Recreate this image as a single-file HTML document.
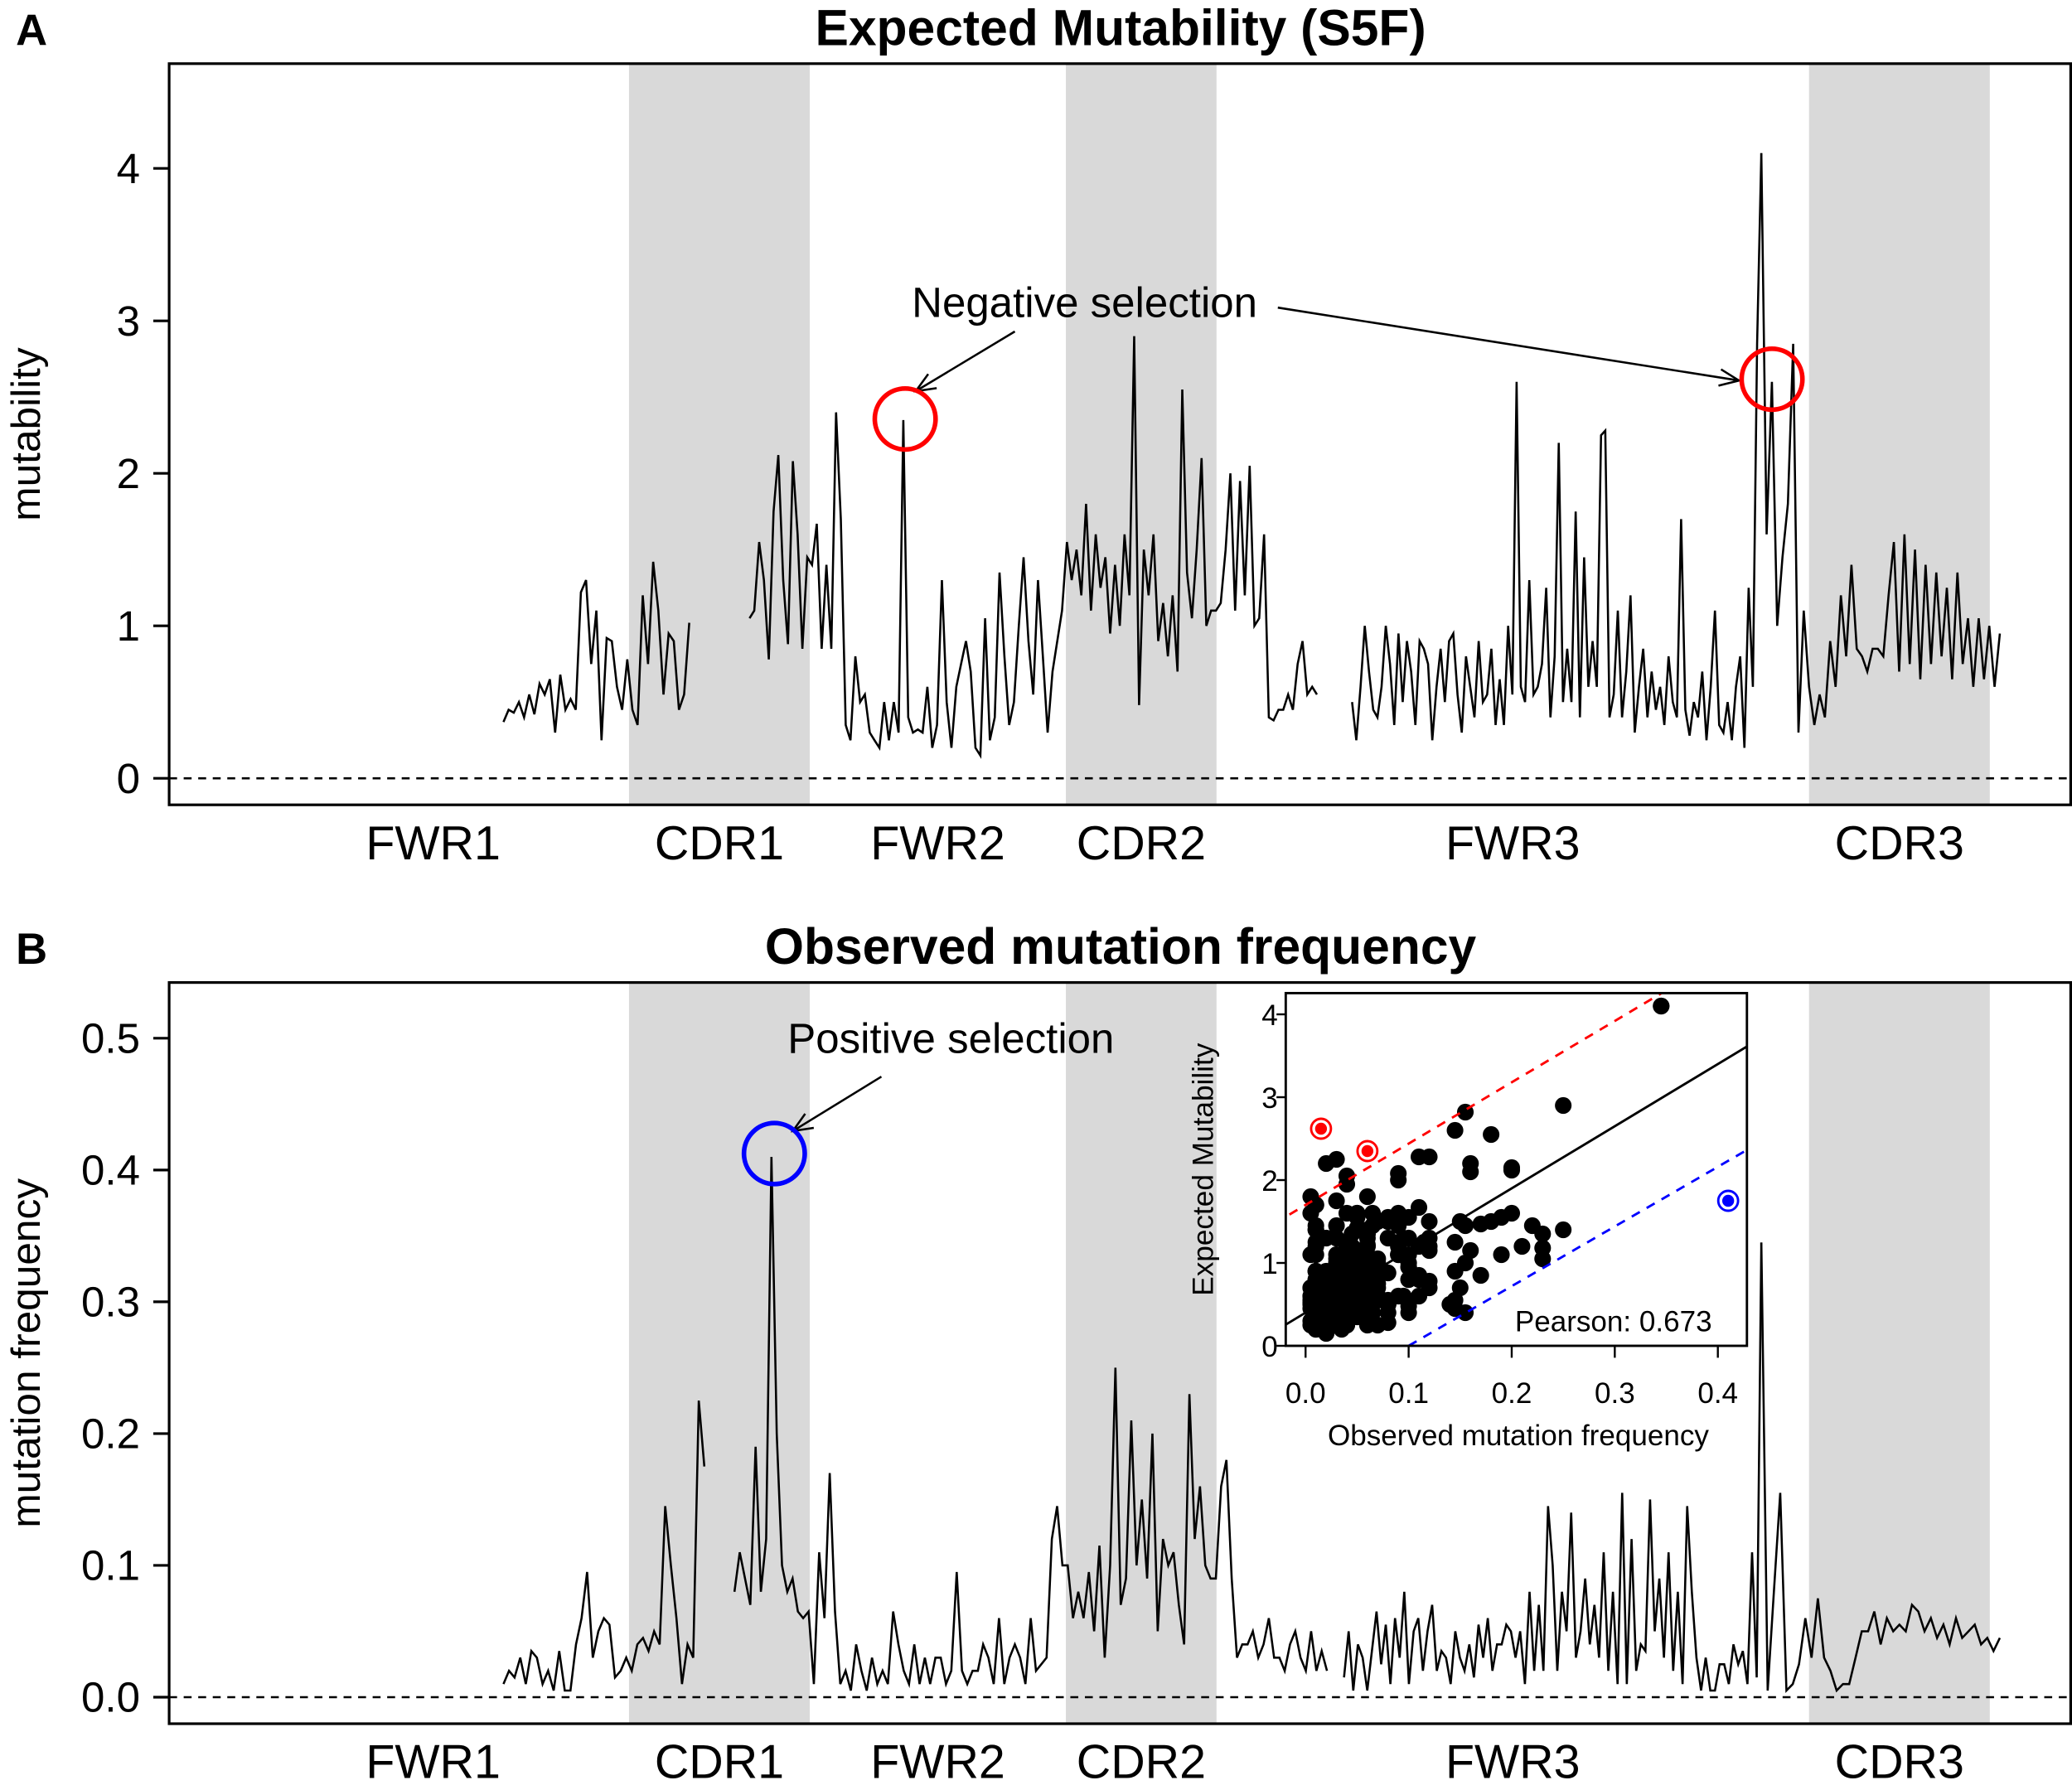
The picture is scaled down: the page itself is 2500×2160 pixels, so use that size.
<!DOCTYPE html>
<html><head><meta charset="utf-8"><style>
html,body{margin:0;padding:0;background:#fff;}
svg{display:block;font-family:"Liberation Sans",Arial,sans-serif;}
</style></head><body>
<svg id="fig" xmlns="http://www.w3.org/2000/svg" width="2500" height="2160" viewBox="0 0 1568 1350" preserveAspectRatio="none"></svg>
<script>
// ---- data ----
const regionNames = ["FWR1","CDR1","FWR2","CDR2","FWR3","CDR3"];
const regionStart = [1,79,115,166,196,314];
const regionEnd = [78,114,165,195,313,349];
const segStartA = [54,103,223,304.5];
const segEndA = [91,216,304.5,352];
const mutA1 = [0.37,0.45,0.43,0.5,0.4,0.55,0.42,0.62,0.55,0.65,0.3,0.68,0.45,0.52,0.45,1.22,1.3,0.75,1.1,0.25,0.92,0.9,0.6,0.45,0.78,0.45,0.35,1.2,0.75,1.42,1.1,0.55,0.95,0.9,0.45,0.55,1.02];
const mutA2 = [1.05,1.1,1.55,1.3,0.78,1.75,2.12,1.3,0.88,2.08,1.6,0.85,1.45,1.4,1.67,0.85,1.4,0.85,2.4,1.7,0.35,0.25,0.8,0.5,0.55,0.3,0.25,0.2,0.5,0.25,0.5,0.3,2.35,0.4,0.3,0.32,0.3,0.6,0.2,0.35,1.3,0.5,0.2,0.6,0.75,0.9,0.7,0.2,0.15,1.05,0.25,0.4,1.35,0.8,0.35,0.5,1.0,1.45,0.9,0.55,1.3,0.8,0.3,0.7,0.9,1.1,1.55,1.3,1.5,1.2,1.8,1.1,1.6,1.25,1.45,0.95,1.4,1.0,1.6,1.2,2.9,0.48,1.5,1.2,1.6,0.9,1.15,0.8,1.2,0.7,2.55,1.35,1.05,1.5,2.1,1.0,1.1,1.1,1.15,1.5,2.0,1.1,1.95,1.2,2.05,1.0,1.05,1.6,0.4,0.38,0.45,0.45,0.55,0.45,0.75,0.9,0.55,0.6,0.55];
const mutA3a = [0.5,0.25,0.6,1.0,0.7,0.45,0.4,0.6,1.0,0.75,0.35,0.95,0.5,0.9,0.7,0.35,0.9,0.85,0.75,0.25,0.6,0.85,0.5,0.9,0.95,0.55,0.3,0.8,0.6,0.4,0.9,0.5,0.55,0.85,0.35,0.65,0.35,1.0,0.55,2.6,0.6,0.5,1.3,0.55,0.6,0.75,1.25,0.4,0.8,2.2,0.5,0.85,0.5,1.75,0.4,1.45,0.6,0.9,0.6,2.25,2.28,0.4,0.55,1.1,0.4,0.7,1.2,0.3,0.6,0.85,0.4,0.7,0.45,0.6,0.35,0.8,0.5,0.4,1.7,0.45,0.28,0.5,0.4,0.7,0.25,0.6,1.1,0.35,0.3,0.5,0.25,0.6,0.8,0.2,1.25,0.6,2.85,4.1];
const mutA3b = [4.1,1.6,2.6,1.0,1.45,1.8,2.85,0.3,1.1,0.6,0.35,0.55,0.4,0.9,0.6,1.2,0.8,1.4,0.85,0.8,0.7,0.85,0.85,0.8,1.2,1.55,0.7,1.6,0.75,1.5,0.65,1.4,0.75,1.35,0.8,1.25,0.65,1.35,0.75,1.05,0.6,1.05,0.65,1.0,0.6,0.95];
const segStartB = [54,100,221.4,304.5];
const segEndB = [94,218,304.5,352];
const freqB1 = [0.01,0.02,0.015,0.03,0.01,0.035,0.03,0.01,0.02,0.005,0.035,0.005,0.005,0.04,0.06,0.095,0.03,0.05,0.06,0.055,0.015,0.02,0.03,0.02,0.04,0.045,0.035,0.05,0.04,0.145,0.1,0.06,0.01,0.04,0.03,0.225,0.175];
const freqB2 = [0.08,0.11,0.09,0.07,0.19,0.08,0.12,0.41,0.2,0.1,0.08,0.09,0.065,0.06,0.065,0.01,0.11,0.06,0.17,0.065,0.01,0.02,0.005,0.04,0.02,0.005,0.03,0.01,0.02,0.01,0.065,0.04,0.02,0.01,0.04,0.01,0.03,0.01,0.03,0.03,0.01,0.02,0.095,0.02,0.01,0.02,0.02,0.04,0.03,0.01,0.06,0.01,0.03,0.04,0.03,0.01,0.06,0.02,0.025,0.03,0.12,0.145,0.1,0.1,0.06,0.08,0.06,0.095,0.05,0.115,0.03,0.1,0.25,0.07,0.09,0.21,0.1,0.15,0.09,0.2,0.05,0.12,0.1,0.11,0.07,0.04,0.23,0.12,0.16,0.1,0.09,0.09,0.16,0.18,0.09,0.03,0.04,0.04,0.05,0.03,0.04,0.06,0.03,0.03,0.02,0.04,0.05,0.03,0.02,0.05,0.02,0.035,0.02];
const freqB3a = [0.015,0.05,0.005,0.04,0.03,0.005,0.035,0.065,0.025,0.055,0.01,0.06,0.03,0.08,0.01,0.05,0.06,0.02,0.05,0.07,0.02,0.035,0.03,0.01,0.05,0.03,0.02,0.04,0.015,0.055,0.03,0.06,0.02,0.04,0.04,0.055,0.05,0.03,0.05,0.01,0.08,0.02,0.07,0.02,0.145,0.1,0.02,0.08,0.05,0.14,0.03,0.05,0.09,0.04,0.07,0.03,0.11,0.02,0.08,0.01,0.155,0.01,0.12,0.02,0.04,0.035,0.15,0.05,0.09,0.03,0.11,0.02,0.08,0.01,0.145,0.08,0.03,0.005,0.03,0.005,0.005,0.025,0.025,0.01,0.04,0.025,0.035,0.01,0.11,0.015,0.345];
const freqB3b = [0.345,0.005,0.08,0.155,0.005,0.01,0.025,0.06,0.03,0.075,0.03,0.02,0.005,0.01,0.01,0.03,0.05,0.05,0.065,0.04,0.06,0.05,0.055,0.05,0.07,0.065,0.05,0.06,0.045,0.055,0.04,0.06,0.045,0.05,0.055,0.04,0.045,0.035,0.045];
const ticksA = [0,1,2,3,4];
const ticksB = [0,0.1,0.2,0.3,0.4,0.5];
const tickLabelsB = ["0.0","0.1","0.2","0.3","0.4","0.5"];
const insetXTicks = [0,0.1,0.2,0.3,0.4];
const insetXLabels = ["0.0","0.1","0.2","0.3","0.4"];
const insetYTicks = [0,1,2,3,4];
const negSelX = [0.015,0.06];
const negSelY = [2.62,2.35];
const posSelX = [0.41];
const posSelY = [1.75];
const extraX = [0.25,0.22,0.23,0.19,0.2,0.18,0.16,0.155,0.145,0.12,0.17];
const extraY = [2.9,1.45,1.18,1.55,2.15,2.55,2.2,2.82,2.6,2.28,1.47];
const fitLine = [0.4,7.5];
const upperLine = [1.7,7.4];
const lowerLine = [-0.72,7.2];

// ---- helpers ----
const svg = document.getElementById('fig');
const NS = "http://www.w3.org/2000/svg";
function mk(tag, attrs, parent){const e=document.createElementNS(NS,tag);for(const k in attrs)e.setAttribute(k,attrs[k]);(parent||svg).appendChild(e);return e;}
function posX(p){return 476 + (p-79)*3.8;}
function yA(v){return 587 - v*115;}
function yB(v){return 1280 - v*994;}
function ix(v){return 988 + v*780;}
function iy(v){return 1015 - v*62.5;}
function segPoints(segS,segE,segs){
  const out=[];
  segs.forEach((vals,s)=>{const step=(segE[s]-segS[s])/(vals.length-1);vals.forEach((v,i)=>out.push([segS[s]+i*step,v]));});
  return out;
}

function panel(top, bottom, yScale, ticks, labels, title, letter, ytitle, segS, segE, segs, key){
  const g = mk('g',{});
  
  
  regionNames.forEach((n,i)=>{
    if(i%2===1){
      const r = mk('rect',{x:posX(regionStart[i]),y:top,width:posX(regionEnd[i]+1)-posX(regionStart[i]),height:bottom-top,fill:'#d9d9d9'},g);
      
      
    }
    const t = mk('text',{x:(posX(regionStart[i])+posX(regionEnd[i]+1))/2,y:bottom+41,'font-size':36,'text-anchor':'middle'},g);
    t.textContent = n;
    
    
  });
  const z = mk('line',{x1:128,x2:1567,y1:yScale(0),y2:yScale(0),stroke:'#000','stroke-width':1.6,'stroke-dasharray':'6,5'},g);
  
  
  segs.forEach((vals,s)=>{
    const step=(segE[s]-segS[s])/(vals.length-1);
    const pts = vals.map((v,i)=>posX(segS[s]+i*step).toFixed(1)+','+yScale(v).toFixed(1)).join(' ');
    const pl = mk('polyline',{points:pts,fill:'none',stroke:'#000','stroke-width':1.6,'stroke-linejoin':'miter'},g);
    
    
  });
  const box = mk('rect',{x:128,y:top,width:1439,height:bottom-top,fill:'none',stroke:'#000','stroke-width':2},g);
  
  
  ticks.forEach((v,i)=>{
    mk('line',{x1:116,x2:128,y1:yScale(v),y2:yScale(v),stroke:'#000','stroke-width':2},g);
    const t = mk('text',{x:106,y:yScale(v)+11,'font-size':32,'text-anchor':'end'},g);
    t.textContent = labels[i];
    
    
  });
  const tt = mk('text',{x:848,y:top-14,'font-size':38,'font-weight':'bold','text-anchor':'middle'},g);
  tt.textContent = title;
  
  
  const lt = mk('text',{x:12,y:top-14,'font-size':33,'font-weight':'bold'},g);
  lt.textContent = letter;
  
  
  const cy=(top+bottom)/2;
  const yt = mk('text',{x:30,y:cy,'font-size':31,'text-anchor':'middle',transform:'rotate(-90 30 '+cy+')'},g);
  yt.textContent = ytitle;
  
  
}
panel(48,607,yA,ticksA,ticksA.map(String),'Expected Mutability (S5F)','A','mutability',segStartA,segEndA,[mutA1,mutA2,mutA3a,mutA3b],'a');
panel(741,1300,yB,ticksB,tickLabelsB,'Observed mutation frequency','B','mutation frequency',segStartB,segEndB,[freqB1,freqB2,freqB3a,freqB3b],'b');

// annotations
function ann(txt,x,y,name){const t=mk('text',{x:x,y:y,'font-size':32});t.textContent=txt;}
ann('Negative selection',690,239,'negative-selection-label');
ann('Positive selection',596,794,'positive-selection-label');
function arrow(x1,y1,x2,y2,name){
  const l=mk('line',{x1:x1,y1:y1,x2:x2,y2:y2,stroke:'#000','stroke-width':1.6});
  
  
  const a=Math.atan2(y1-y2,x1-x2),L=16;
  mk('polyline',{points:(x2+L*Math.cos(a+0.4))+','+(y2+L*Math.sin(a+0.4))+' '+x2+','+y2+' '+(x2+L*Math.cos(a-0.4))+','+(y2+L*Math.sin(a-0.4)),fill:'none',stroke:'#000','stroke-width':1.6});
}
arrow(768,250,693,295,'arrow-negative-1');
arrow(967,232,1316,287,'arrow-negative-2');
arrow(667,812,600,853,'arrow-positive');
function circ(cx,cy,col,name){const c=mk('circle',{cx:cx,cy:cy,r:23,fill:'none',stroke:col,'stroke-width':3.5});}
circ(685,316,'#ff0000','negative-circle-fwr2');
circ(1341,286,'#ff0000','negative-circle-cdr3');
circ(586,870,'#0000ff','positive-circle-cdr1');

// inset
const ins = mk('g',{});


mk('rect',{x:973,y:749,width:349,height:266,fill:'#fff'},ins);
const cp = mk('clipPath',{id:'insclip'},ins);
mk('rect',{x:973,y:749,width:349,height:266},cp);
const ig = mk('g',{'clip-path':'url(#insclip)'},ins);
const ptsA = segPoints(segStartA,segEndA,[mutA1,mutA2,mutA3a,mutA3b]);
const ptsB = segPoints(segStartB,segEndB,[freqB1,freqB2,freqB3a,freqB3b]);
ptsA.forEach(pa=>{
  let best=null,bd=1e9;
  ptsB.forEach(pb=>{const d=Math.abs(pb[0]-pa[0]);if(d<bd){bd=d;best=pb;}});
  if(!best||bd>1.5) return;
  if(pa[1]>2.3 && best[1]<0.12) return;
  const d=mk('circle',{cx:ix(best[1]),cy:iy(pa[1]),r:6.3,fill:'#000'},ig);
  
  
});
extraX.forEach((v,i)=>{
  const d=mk('circle',{cx:ix(v),cy:iy(extraY[i]),r:6.3,fill:'#000'},ig);
  
  
});
function fline(c,col,dash,name){
  const l=mk('line',{x1:ix(-0.03),y1:iy(c[0]+c[1]*-0.03),x2:ix(0.45),y2:iy(c[0]+c[1]*0.45),stroke:col,'stroke-width':1.8,'stroke-dasharray':dash},ig);
  
  
}
fline(fitLine,'#000','none','inset-regression-line');
fline(upperLine,'#ff0000','7,6','inset-upper-bound');
fline(lowerLine,'#0000ff','7,6','inset-lower-bound');
negSelX.forEach((v,i)=>{
  mk('circle',{cx:ix(v),cy:iy(negSelY[i]),r:7.5,fill:'#fff',stroke:'#ff0000','stroke-width':1.8},ig);
  const d=mk('circle',{cx:ix(v),cy:iy(negSelY[i]),r:4.5,fill:'#ff0000'},ig);
  
  
});
posSelX.forEach((v,i)=>{
  mk('circle',{cx:ix(v),cy:iy(posSelY[i]),r:7.5,fill:'#fff',stroke:'#0000ff','stroke-width':1.8},ig);
  const d=mk('circle',{cx:ix(v),cy:iy(posSelY[i]),r:4.5,fill:'#0000ff'},ig);
  
  
});
mk('rect',{x:1142,y:983,width:162,height:28,fill:'#fff'},ins);
mk('rect',{x:973,y:749,width:349,height:266,fill:'none',stroke:'#000','stroke-width':1.8},ins);
insetXTicks.forEach((v,i)=>{
  mk('line',{x1:ix(v),x2:ix(v),y1:1015,y2:1024,stroke:'#000','stroke-width':1.5},ins);
  const t=mk('text',{x:ix(v),y:1058,'font-size':22,'text-anchor':'middle'},ins);
  t.textContent=insetXLabels[i];
  
  
});
insetYTicks.forEach(v=>{
  mk('line',{x1:966,x2:973,y1:iy(v),y2:iy(v),stroke:'#000','stroke-width':1.5},ins);
  const t=mk('text',{x:967,y:iy(v)+8,'font-size':22,'text-anchor':'end'},ins);
  t.textContent=String(v);
  
  
});
const ixt=mk('text',{x:1149,y:1090,'font-size':22,'text-anchor':'middle'},ins);
ixt.textContent='Observed mutation frequency';


const iyt=mk('text',{x:918,y:882,'font-size':22,'text-anchor':'middle',transform:'rotate(-90 918 882)'},ins);
iyt.textContent='Expected Mutability';


const pr=mk('text',{x:1221,y:1004,'font-size':22,'text-anchor':'middle'},ins);
pr.textContent='Pearson: 0.673';


</script>
</body></html>
